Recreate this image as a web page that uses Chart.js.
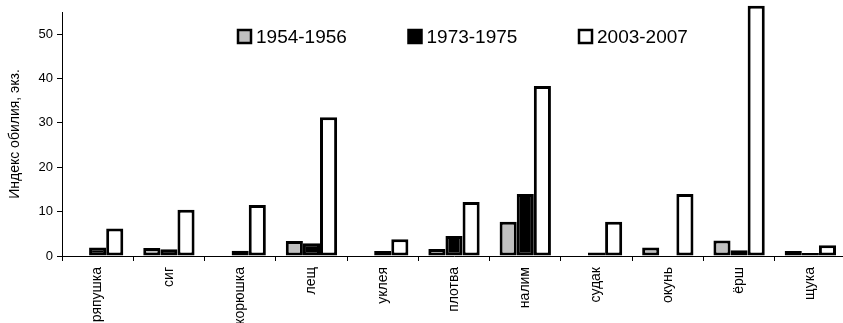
<!DOCTYPE html>
<html>
<head>
<meta charset="utf-8">
<script src="https://cdn.jsdelivr.net/npm/chart.js@4/dist/chart.umd.min.js"></script>
<style>
  html, body { margin: 0; padding: 0; background: #fff; overflow: hidden; }
  #wrap { width: 846px; height: 323px; position: relative; }
</style>
</head>
<body>
<div id="wrap"><canvas id="fishChart"></canvas></div>
<script>
// Abundance index by species and period

const species = ['ряпушка', 'сиг', 'корюшка', 'лещ', 'уклея', 'плотва', 'налим', 'судак', 'окунь', 'ёрш', 'щука'];
const periods = ['1954-1956', '1973-1975', '2003-2007'];

const values1954 = [0, 1.8, 0, 3.4, 0, 1.6, 7.7, 0, 1.9, 3.5, 1.1];
const values1973 = [1.9, 1.5, 1.2, 2.9, 1.1, 4.5, 14.0, 0.8, 0, 1.3, 0.7];
const values2003 = [6.2, 10.4, 11.5, 31.3, 3.8, 12.2, 38.3, 7.7, 14.0, 56.4, 2.4];

const yTicks = [0, 10, 20, 30, 40, 50];

const FONT = 'Liberation Sans, Arial, sans-serif';

// legend drawn inside the plot, boxes with thick black border
const boxLegend = {
    id: 'boxLegend',
    afterDraw(chart) {
        const ctx = chart.ctx;
        ctx.save();
        ctx.font = '19px ' + FONT;
        ctx.textBaseline = 'middle';
        chart.data.datasets.forEach((ds, i) => {
            const x = 238 + i * 170.5;
            const y = 30;
            ctx.fillStyle = ds.backgroundColor;
            ctx.fillRect(x, y, 13, 13);
            ctx.lineWidth = 2.5;
            ctx.strokeStyle = '#000';
            ctx.strokeRect(x, y, 13, 13);
            ctx.fillStyle = '#000';
            ctx.fillText(ds.label, x + 18, y + 7.5);
        });
        ctx.restore();
    }
};

const barStyle = {
    borderColor: '#000',
    borderWidth: 3,
    borderSkipped: false,
    barPercentage: 1.0,
    categoryPercentage: 0.72
};

new Chart(document.getElementById('fishChart'), {
    type: 'bar',
    data: {
        labels: species,
        datasets: [
            { label: periods[0], data: values1954, backgroundColor: '#c0c0c0', ...barStyle },
            { label: periods[1], data: values1973, backgroundColor: '#000000', ...barStyle },
            { label: periods[2], data: values2003, backgroundColor: '#ffffff', clip: false, ...barStyle }
        ]
    },
    options: {
        responsive: true,
        maintainAspectRatio: false,
        animation: false,
        layout: { padding: { top: 12, right: 0, left: 0, bottom: 0 } },
        plugins: {
            legend: { display: false },
            tooltip: { enabled: false },
            title: { display: false }
        },
        scales: {
            x: {
                grid: { drawOnChartArea: false, drawTicks: true, tickLength: 5, color: '#000', offset: true },
                border: { display: true, color: '#000', width: 1 },
                ticks: {
                    color: '#000',
                    font: { family: FONT, size: 14 },
                    minRotation: 90,
                    maxRotation: 90,
                    autoSkip: false,
                    padding: 6
                },
                afterFit(scale) { scale.height = 67; }
            },
            y: {
                min: 0,
                max: 55,
                afterBuildTicks(scale) {
                    scale.ticks = yTicks.map(v => ({ value: v }));
                },
                grid: { drawOnChartArea: false, drawTicks: true, tickLength: 5, color: '#000' },
                border: { display: true, color: '#000', width: 1 },
                ticks: {
                    color: '#000',
                    font: { family: FONT, size: 13 },
                    padding: 4
                },
                title: {
                    display: true,
                    text: 'Индекс обилия, экз.',
                    color: '#000',
                    font: { family: FONT, size: 14 },
                    padding: { top: 7, bottom: 0 }
                },
                afterFit(scale) { scale.width = 62; }
            }
        }
    },
    plugins: [boxLegend]
});
</script>
</body>
</html>
